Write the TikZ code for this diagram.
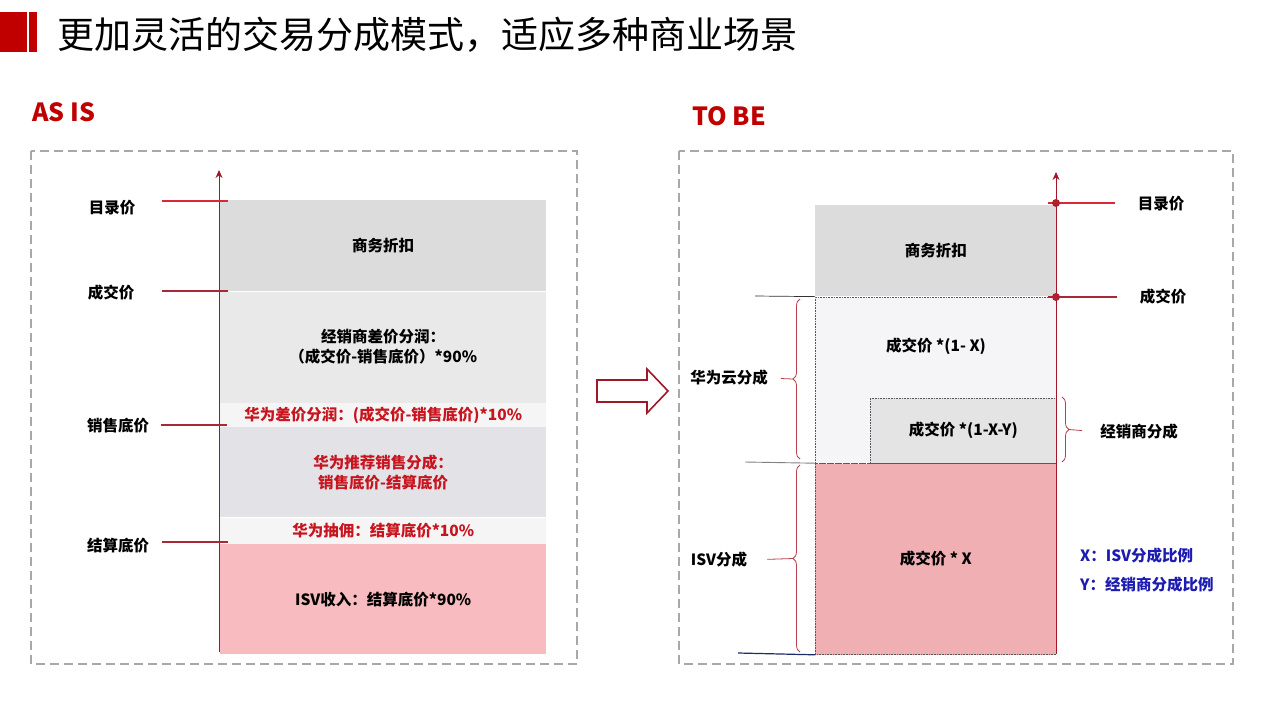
\documentclass[tikz,border=0pt]{standalone}
\usepackage{fontspec}
\setmainfont{Noto Sans CJK SC}
\usepackage{xcolor}
\usetikzlibrary{arrows.meta,decorations.pathreplacing}
\definecolor{hwred}{HTML}{C00000}
\definecolor{txtred}{HTML}{C8141E}
\definecolor{lvlred}{HTML}{D8283A}
\definecolor{lvldark}{HTML}{A82838}
\definecolor{axred}{HTML}{A01828}
\definecolor{brcred}{HTML}{B8404E}
\definecolor{framegray}{HTML}{A8A8A8}
\definecolor{legblue}{HTML}{1C1CB0}
\definecolor{navy}{HTML}{1A2A6A}
\definecolor{gA}{HTML}{DCDCDC}
\definecolor{gB}{HTML}{E9E9E9}
\definecolor{gC}{HTML}{F5F5F5}
\definecolor{gD}{HTML}{E2E2E7}
\definecolor{gE}{HTML}{F5F5F7}
\definecolor{gF}{HTML}{E4E4E4}
\definecolor{pinkL}{HTML}{F8BCC0}
\definecolor{pinkR}{HTML}{F0AFB3}

\begin{document}
\begin{tikzpicture}[x=1pt,y=-1pt]
  \tikzstyle{every node}=[inner sep=0pt, font=\bfseries\fontsize{15.5}{20}\selectfont]
  \tikzstyle{blk}=[rectangle, anchor=north west, minimum width=326, align=center]
  \tikzstyle{rblk}=[rectangle, anchor=north west, minimum width=241, draw=gray!70!black, densely dotted, line width=0.6pt]
  \tikzstyle{lvl}=[draw=lvldark, line width=1.3pt]
  \tikzstyle{axis}=[draw=axred, line width=0.9pt, -{Stealth[length=8pt,width=7pt]}]
  \tikzstyle{frame}=[draw=framegray, line width=1.6pt, dash pattern=on 9pt off 5pt]
  \tikzstyle{brc}=[draw=brcred, line width=0.8pt, decorate, decoration={brace, amplitude=7pt}]
  \tikzstyle{tick}=[draw=brcred, line width=0.8pt]
  \tikzstyle{dot}=[circle, fill=lvlred!80!black, minimum size=8pt]
  \useasboundingbox (0,0) rectangle (1266,705);

  \fill[hwred] (0,12) rectangle (27,52);
  \fill[hwred] (29,12) rectangle (37,52);
  \node[anchor=west, font=\fontsize{37}{40}\selectfont] (title) at (57,35) {更加灵活的交易分成模式，适应多种商业场景};
  \node[anchor=west, text=hwred, font=\bfseries\fontsize{25}{28}\selectfont] (asis) at (32,112) {AS IS};
  \node[anchor=west, text=hwred, font=\bfseries\fontsize{25}{28}\selectfont] (tobe) at (692,116) {TO BE};

  \draw[frame] (31,151) rectangle (577,664);
  \draw[frame] (679,151) rectangle (1233,664);
  \draw[draw=axred, line width=1.6pt, fill=white] (597,380) -- (647,380) -- (647,369) -- (668,391) -- (647,413) -- (647,402) -- (597,402) -- cycle;

  \node[blk, fill=gA, minimum height=91] (discL) at (220,200) {商务折扣};
  \node[blk, fill=gB, minimum height=111] (dealL) at (discL.south west) {经销商差价分润：\\（成交价-销售底价）*90\%};
  \node[blk, fill=gC, minimum height=24, text=txtred] (hwdiffL) at (dealL.south west) {华为差价分润：(成交价-销售底价)*10\%};
  \node[blk, fill=gD, minimum height=90, text=txtred] (recL) at (hwdiffL.south west) {华为推荐销售分成：\\销售底价-结算底价};
  \node[blk, fill=gC, minimum height=26, text=txtred] (commL) at (recL.south west) {华为抽佣：结算底价*10\%};
  \node[blk, fill=pinkL, minimum height=110] (isvL) at (commL.south west) {ISV收入：结算底价*90\%};
  \coordinate (botL) at (219,652);
  \coordinate (topL) at (219,170);
  \draw[axis] (botL) -- (topL);

  \node (catL) at (112,208) {目录价};
  \node (dealPL) at (111,293) {成交价};
  \node (saleL) at (118,426) {销售底价};
  \node (settL) at (118,546) {结算底价};
  \coordinate (catLs) at (162,201);
  \coordinate (catLe) at (228,201);
  \coordinate (dealLs) at (162,291);
  \coordinate (dealLe) at (228,291);
  \coordinate (saleLs) at (161,425);
  \coordinate (saleLe) at (227,425);
  \coordinate (settLs) at (162,542);
  \coordinate (settLe) at (228,542);
  \draw[lvl, draw=lvlred] (catLs) -- (catLe);
  \draw[lvl] (dealLs) -- (dealLe);
  \draw[lvl] (saleLs) -- (saleLe);
  \draw[lvl] (settLs) -- (settLe);

  \node[rblk, draw=none, fill=gA, minimum height=91] (discR) at (815,205) {商务折扣};
  \node[rblk, fill=gE, minimum height=166] (dealR) at (discR.south west) {};
  \node (dealRt) at (936,346) {成交价 *(1- X)};
  \node[rblk, fill=gF, minimum width=186, minimum height=65, anchor=south east] (distR) at (dealR.south east) {成交价 *(1-X-Y)};
  \node[rblk, fill=pinkR, minimum height=191] (isvR) at (dealR.south west) {成交价 * X};
  \coordinate (botR) at (1056,653);
  \coordinate (topR) at (1056,172);
  \draw[axis] (botR) -- (topR);

  \coordinate (catRs) at (1048,203);
  \coordinate (catRe) at (1115,203);
  \coordinate (dealRs) at (1048,297);
  \coordinate (dealRe) at (1117,297);
  \draw[lvl, draw=lvlred] (catRs) -- (catRe);
  \draw[lvl] (dealRs) -- (dealRe);
  \node[dot] (catRd) at (1056,203) {};
  \node[dot] (dealRd) at (1056,297) {};
  \node (catR) at (1161,204) {目录价};
  \node (dealPR) at (1163,297) {成交价};

  \coordinate (l1) at (755,296);
  \coordinate (l2) at (745,462);
  \coordinate (l3) at (738,653);
  \draw[black!80, line width=0.7pt] (l1) -- (dealR.north west);
  \draw[gray, line width=0.9pt] (l2) -- (isvR.north west);
  \draw[navy, line width=1.2pt] (l3) -- (isvR.south west);

  \coordinate (hwA) at (800,299);
  \coordinate (hwB) at (800,459);
  \coordinate (hwTip) at (793,379);
  \coordinate (isvA) at (800,465);
  \coordinate (isvB) at (800,652);
  \coordinate (isvTip) at (793,558.5);
  \coordinate (dsA) at (1062,397);
  \coordinate (dsB) at (1062,462);
  \coordinate (dsTip) at (1069,429.5);
  \draw[brc] (hwB) -- (hwA);
  \draw[brc] (isvB) -- (isvA);
  \draw[brc] (dsA) -- (dsB);
  \node (hwLab) at (729,378) {华为云分成};
  \node (isvLab) at (719,560) {ISV分成};
  \node (dsLab) at (1139,432) {经销商分成};
  \draw[tick, shorten <=13pt] (hwLab.east) -- (hwTip);
  \draw[tick, shorten <=20pt] (isvLab.east) -- (isvTip);
  \draw[tick, shorten <=18pt] (dsLab.west) -- (dsTip);

  \node[anchor=west, text=legblue] (legX) at (1080,556) {X：ISV分成比例};
  \node[anchor=west, text=legblue] (legY) at (1080,585) {Y：经销商分成比例};
\end{tikzpicture}
\end{document}
